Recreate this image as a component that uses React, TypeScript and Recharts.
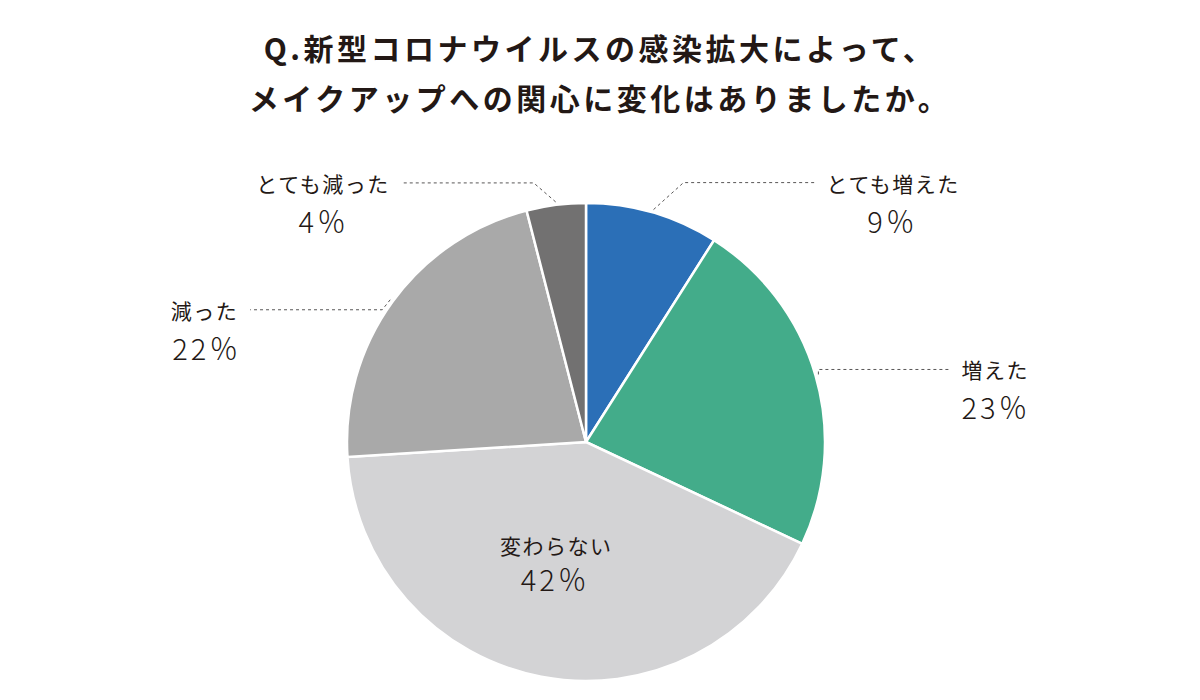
import { PieChart, Pie, Cell } from "recharts";

const categories = ["とても増えた", "増えた", "変わらない", "減った", "とても減った"];
const shares = [9, 23, 42, 22, 4];
const percentLabels = ["9％", "23％", "42％", "22％", "4％"];
const colors = ["#2b6fb7", "#43ac8a", "#d3d3d5", "#a9a9a9", "#727171"];

const titleLines = [
  "Q.新型コロナウイルスの感染拡大によって、",
  "メイクアップへの関心に変化はありましたか。",
];

const data = categories.map((name, i) => ({ name, value: shares[i] }));

// leader line layout per slice: elbow offset from edge, horizontal run, text side
const labelLayout = [
  { dx: 30, dy: -27, run: 132, side: "right", pct: "middle" },
  { dx: 0, dy: -5, run: 132, side: "right", pct: "start" },
  { inside: true, r: 105, ox: -10 },
  { dx: -8, dy: 10, run: -132, side: "left", pct: "start" },
  { dx: -22, dy: -19, run: -132, side: "left", pct: "middle" },
] as const;

const RAD = Math.PI / 180;
const TEXT = "#231815";
const FONT = "'Noto Sans CJK JP', 'Noto Sans', sans-serif";
const LABEL_W = 22;

function renderLabel(props: any) {
  const { cx, cy, midAngle, outerRadius, index } = props;
  const lay: any = labelLayout[index];
  const cos = Math.cos(-midAngle * RAD);
  const sin = Math.sin(-midAngle * RAD);
  if (lay.inside) {
    const x = cx + lay.r * cos + lay.ox;
    const y = cy + lay.r * sin;
    return (
      <g>
        <text x={x} y={y} textAnchor="middle" dominantBaseline="central" fill={TEXT} fontSize={21} fontWeight={400} letterSpacing={1.5} fontFamily={FONT}>
          {categories[index]}
        </text>
        <text x={x - 1} y={y + 33} textAnchor="middle" dominantBaseline="central" fill={TEXT} fontSize={29} fontWeight={300} letterSpacing={3} fontFamily={FONT}>
          {percentLabels[index]}
        </text>
      </g>
    );
  }
  const sx = cx + (outerRadius + 3) * cos;
  const sy = cy + (outerRadius + 3) * sin;
  const ex = sx + lay.dx;
  const ey = sy + lay.dy;
  const hx = ex + lay.run;
  const right = lay.side === "right";
  const tx = right ? hx + 11 : hx - 12;
  const anchor = right ? "start" : "end";
  const textW = categories[index].length * LABEL_W;
  const left = right ? tx : tx - textW;
  const pctX = lay.pct === "middle" ? left + textW / 2 : left;
  return (
    <g>
      <polyline
        points={`${sx},${sy} ${ex},${ey} ${hx},${ey}`}
        fill="none"
        stroke="#595757"
        strokeWidth={1}
        strokeDasharray="3 3"
      />
      <text x={tx} y={ey} textAnchor={anchor} dominantBaseline="central" fill={TEXT} fontSize={21} fontWeight={400} letterSpacing={1.5} fontFamily={FONT}>
        {categories[index]}
      </text>
      <text x={pctX} y={ey + 37} textAnchor={lay.pct} dominantBaseline="central" fill={TEXT} fontSize={29} fontWeight={300} letterSpacing={3} fontFamily={FONT}>
        {percentLabels[index]}
      </text>
    </g>
  );
}

export default function App() {
  return (
    <div style={{ position: "absolute", left: 0, top: 0, width: 1200, height: 700, background: "#fff" }}>
      <div
        style={{
          position: "absolute",
          top: 22,
          left: 0,
          width: 1200,
          textAlign: "center",
          fontFamily: FONT,
          fontWeight: 700,
          fontSize: 30,
          letterSpacing: 3.5,
          lineHeight: "50px",
          color: TEXT,
        }}
      >
        {titleLines.map((t) => (
          <div key={t}>{t}</div>
        ))}
      </div>
      <PieChart
        width={1200}
        height={700}
        margin={{ top: 0, right: 0, bottom: 0, left: 0 }}
        style={{ position: "absolute", left: 0, top: 0 }}
      >
        <Pie
          data={data}
          dataKey="value"
          nameKey="name"
          cx={586}
          cy={442}
          outerRadius={239}
          startAngle={90}
          endAngle={-270}
          stroke="#ffffff"
          strokeWidth={2.5}
          label={renderLabel}
          labelLine={false}
          isAnimationActive={false}
        >
          {data.map((d, i) => (
            <Cell key={d.name} fill={colors[i]} />
          ))}
        </Pie>
      </PieChart>
    </div>
  );
}
